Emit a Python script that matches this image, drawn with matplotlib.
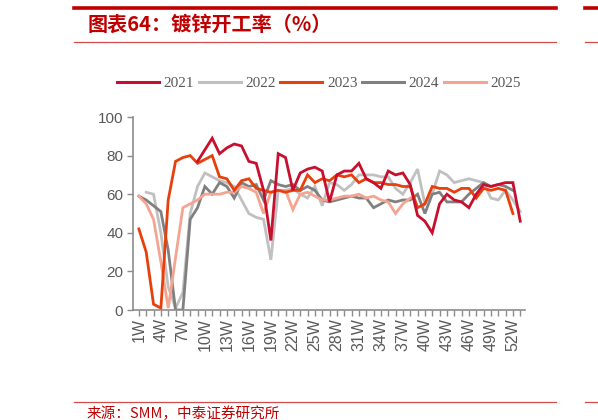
import numpy as np
import matplotlib.pyplot as plt
from matplotlib.lines import Line2D

nan = np.nan
weeks = np.arange(1, 54)
week_labels = [f"{w}W" for w in weeks]

y2021 = [nan, nan, nan, nan, nan, nan, nan, nan, 77, 83, 89, 81, 84, 86, 85, 77, 76, 62, 36, 81,
         79, 62, 71, 73, 74, 72, 56, 70, 72, 72, 76, 68, 66, 63, 72, 70, 71, 65, 49, 46,
         40, 55, 60, 57, 56, 53, 60, 65, 64, 65, 66, 66, 46]
y2022 = [nan, 61, 60, 40, 12, 1, 9, 50, 64, 71, 69, 67, 66, 64, 57, 50, 48, 47, 26, 62,
         62, 63, 60, 58, 64, 54, 66, 65, 62, 65, 70, 70, 70, 69, 69, 63, 60, 66, 73, 55,
         60, 72, 70, 66, 67, 68, 67, 66, 58, 57, 62, 57, 51]
y2023 = [42, 30, 3, 1, 57, 77, 79, 80, 76, 78, 80, 69, 68, 62, 67, 68, 63, 62, 61, 62,
         61, 62, 62, 70, 66, 68, 67, 70, 69, 70, 66, 68, 66, 66, 65, 65, 64, 64, 53, 55,
         64, 63, 63, 61, 63, 63, 58, 63, 62, 63, 62, 50, nan]
y2024 = [59, 57, 54, 51, 31, 0, 0, 47, 53, 64, 60, 66, 64, 58, 66, 64, 65, 57, 67, 65,
         64, 65, 62, 64, 62, 57, 56, 57, 58, 59, 58, 58, 53, 55, 57, 56, 57, 57, 60, 50,
         60, 61, 56, 56, 56, 60, 63, 66, 64, 65, 64, 62, nan]
y2025 = [59, 55, 47, 25, 1, 27, 53, 55, 57, 60, 60, 60, 61, 61, 64, 63, 61, 50, 61, 62,
         62, 52, 60, 61, 59, 57, 57, 58, 59, 59, 60, 58, 59, 57, 56, 50, 55, 58, nan, nan,
         nan, nan, nan, nan, nan, nan, nan, nan, nan, nan, nan, nan, nan]

series = {"2021": y2021, "2022": y2022, "2023": y2023, "2024": y2024, "2025": y2025}
colors = {"2021": "#C8102E", "2022": "#C0C0C0", "2023": "#E8400C",
          "2024": "#808080", "2025": "#F5A491"}
draw_order = ["2022", "2024", "2025", "2023", "2021"]

red = "#C00000"
axis_gray = "#8C8C8C"
text_gray = "#595959"

fig = plt.figure(figsize=(5.98, 4.2), dpi=100)
ax = fig.add_axes([133 / 598, 1 - 310 / 420, (525 - 133) / 598, (310 - 117) / 420])

for name in draw_order:
    ax.plot(weeks, series[name], color=colors[name], lw=2.0, solid_joinstyle="miter")

ax.set_ylim(0, 100)
ax.set_xlim(0.2, 53.65)
ax.set_yticks(range(0, 101, 20))
ax.set_xticks(weeks)
ax.set_xticklabels([l if (i % 3 == 0) else "" for i, l in enumerate(week_labels)],
                   rotation=90, fontsize=11.5, color=text_gray, family="Liberation Sans")
for lab in ax.get_yticklabels():
    lab.set_fontsize(11)
    lab.set_color(text_gray)
    lab.set_family("Liberation Sans")

for s in ["top", "right"]:
    ax.spines[s].set_visible(False)
for s in ["left", "bottom"]:
    ax.spines[s].set_color(axis_gray)
    ax.spines[s].set_linewidth(1.2)
ax.tick_params(axis="y", length=4, color=axis_gray, width=1, pad=3)
ax.tick_params(axis="x", length=4, color=axis_gray, width=1, pad=2)

# legend
handles = [Line2D([0], [0], color=colors[n], lw=2.2) for n in series]
leg = fig.legend(handles, list(series.keys()), loc="center", bbox_to_anchor=(319 / 598, 1 - 83 / 420),
                 ncol=5, frameon=False, handlelength=2.75, handletextpad=0.3, columnspacing=0.3,
                 prop={"family": "Liberation Serif", "size": 11})
for t in leg.get_texts():
    t.set_color(text_gray)

# header and footer
fig.add_artist(Line2D([74 / 598, 556 / 598], [1 - 7.5 / 420] * 2, color=red, lw=2.6))
fig.add_artist(Line2D([74 / 598, 556 / 598], [1 - 42 / 420] * 2, color="#D24B4B", lw=0.9))
fig.add_artist(Line2D([585 / 598, 1], [1 - 7.5 / 420] * 2, color=red, lw=2.6))
fig.add_artist(Line2D([585 / 598, 1], [1 - 42 / 420] * 2, color="#D24B4B", lw=0.9))
fig.text(88 / 598, 1 - 24 / 420, "图表64：镀锌开工率（%）", color=red, fontsize=14.5,
         fontweight="bold", family=["Noto Sans CJK SC", "DejaVu Sans"], va="center", ha="left")

fig.add_artist(Line2D([74 / 598, 556 / 598], [1 - 402 / 420] * 2, color="#D24B4B", lw=0.9))
fig.add_artist(Line2D([585 / 598, 1], [1 - 402 / 420] * 2, color="#D24B4B", lw=0.9))
fig.text(87 / 598, 1 - 414 / 420, "来源：SMM，中泰证券研究所", color=red, fontsize=10.5,
         family=["Noto Sans CJK SC", "DejaVu Sans"], va="center", ha="left")

fig.savefig("out.png", dpi=100)
